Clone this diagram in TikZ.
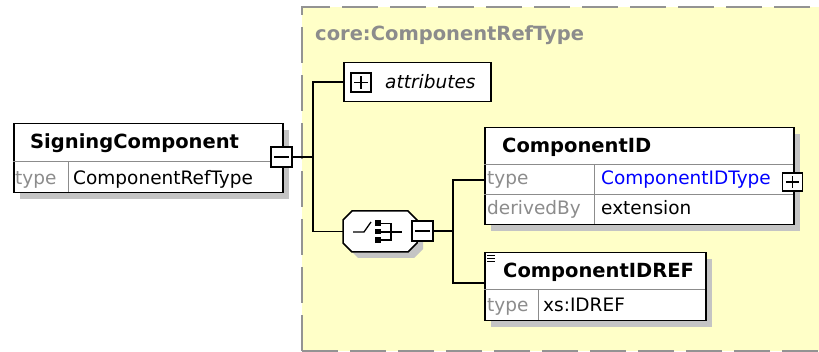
\documentclass[tikz,border=0pt]{standalone}
\usepackage{fontspec}
\setmainfont{DejaVu Sans}
\definecolor{bgyellow}{HTML}{FFFFC8}
\definecolor{dashgray}{HTML}{939393}
\definecolor{shadowgray}{HTML}{C4C4C4}
\definecolor{labelgray}{HTML}{8C8C8C}
\definecolor{divgray}{HTML}{8C8C8C}
\definecolor{typeblue}{HTML}{0000FF}
\begin{document}
\begin{tikzpicture}[x=1pt,y=-1pt,
  boxnode/.style={draw=black, line width=1.5pt, fill=white, inner sep=0pt, anchor=north west},
  shadowfill/.style={fill=shadowgray},
  divider/.style={draw=divgray, line width=1pt},
  conn/.style={draw=black, line width=1.5pt},
  minibox/.style={draw=black, line width=1.3pt, fill=white, minimum width=21pt, minimum height=20pt, inner sep=0pt},
  sign/.style={draw=black, line width=1.3pt},
  regtxt/.style={inner sep=0pt, anchor=base west, font=\fontsize{18.5}{20}\selectfont},
  boldtxt/.style={inner sep=0pt, anchor=base west, font=\fontsize{19.5}{21}\selectfont\bfseries},
  graytxt/.style={regtxt, text=labelgray},
]
\useasboundingbox (0,0) rectangle (819,352);
\fill[white] (0,0) rectangle (819,352);

% complex type region
\begin{scope}
\clip (0,0) rectangle (819,352);
\draw[dashgray, line width=2pt, dash pattern=on 36pt off 12pt, fill=bgyellow] (302,351) rectangle (840,7);
\end{scope}
\node[boldtxt, text=labelgray] (ctname) at (315,41) {core:ComponentRefType};

% SigningComponent
\fill[shadowfill] (20,130) rectangle (289,199);
\node[boxnode, minimum width=269pt, minimum height=69pt] (sc) at (13,123) {};
\draw[divider] (13,162) -- (282,162);
\draw[divider] (68,162) -- (68,192);
\node[boldtxt] (sctitle) at (30,149) {SigningComponent};
\node[graytxt] (sctype) at (15,185) {type};
\node[regtxt] (scval) at (73,185) {ComponentRefType};
\node[minibox] (m1) at (281.5,157) {};
\draw[sign] ([xshift=4pt]m1.west) -- ([xshift=-4pt]m1.east);

% attributes
\node[boxnode, minimum width=147pt, minimum height=39pt] (attr) at (343,62) {};
\node[minibox, minimum width=20pt, minimum height=19pt] (p1) at (361,82.5) {};
\draw[sign] ([xshift=4pt]p1.west) -- ([xshift=-4pt]p1.east);
\draw[sign] ([yshift=-4pt]p1.north) -- ([yshift=4pt]p1.south);
\node[regtxt, font=\fontsize{18.5}{20}\selectfont\itshape] (attrtxt) at (385,89) {attributes};

% sequence compositor
\fill[shadowfill] (358,217)--(414,217)--(423,226)--(423,249)--(414,258)--(358,258)--(349,249)--(349,226)--cycle;
\draw[fill=white, line width=1.5pt] (352,211)--(408,211)--(417,220)--(417,243)--(408,252)--(352,252)--(343,243)--(343,220)--cycle;
\node[inner sep=0pt, minimum width=74pt, minimum height=41pt] (seq) at (380,231.5) {};
\draw[line width=1.3pt] (353,232) -- (364,232) -- (371,222);
\fill[black] (375,220.5) rectangle (381,226);
\fill[black] (375,229) rectangle (381,234.5);
\fill[black] (375,237.5) rectangle (381,243);
\draw[line width=1.3pt] (381,223.5) -- (391,223.5) -- (391,240) -- (381,240);
\draw[line width=1.3pt] (381,232) -- (402,232);
\node[minibox] (m2) at (422.5,231) {};
\draw[sign] ([xshift=4pt]m2.west) -- ([xshift=-4pt]m2.east);

% ComponentID
\fill[shadowfill] (491,134) rectangle (800,231);
\node[boxnode, minimum width=309pt, minimum height=97pt] (cid) at (484,127) {};
\draw[divider] (484,165) -- (793,165);
\draw[divider] (484,195) -- (793,195);
\draw[divider] (594,165) -- (594,224);
\node[inner sep=0pt, minimum width=309pt, minimum height=30pt, anchor=north west] (cidtype) at (484,165) {};
\node[boldtxt] (cidtitle) at (502,153) {ComponentID};
\node[graytxt] (cidtl) at (487,185) {type};
\node[regtxt, text=typeblue] (cidtv) at (601,185) {ComponentIDType};
\node[graytxt] (ciddl) at (487,215) {derivedBy};
\node[regtxt] (ciddv) at (601,215) {extension};
\node[minibox, minimum width=20pt, minimum height=18pt] (p2) at (792.5,182) {};
\draw[sign] ([xshift=4pt]p2.west) -- ([xshift=-4pt]p2.east);
\draw[sign] ([yshift=-3.5pt]p2.north) -- ([yshift=3.5pt]p2.south);

% ComponentIDREF
\fill[shadowfill] (491,259) rectangle (712,327);
\node[boxnode, minimum width=221pt, minimum height=68pt] (cref) at (484,252) {};
\draw[divider] (484,290) -- (705,290);
\draw[divider] (538,290) -- (538,320);
\draw[line width=1pt] (487,255.5) -- (495,255.5);
\draw[line width=1pt] (487,258.5) -- (495,258.5);
\draw[line width=1pt] (487,261.5) -- (495,261.5);
\node[boldtxt] (creftitle) at (503,278) {ComponentIDREF};
\node[graytxt] (creftl) at (487,312) {type};
\node[regtxt] (creftv) at (543,312) {xs:IDREF};
\coordinate (crefin) at (484,283);

% connectors
\coordinate (j1) at (313,157);
\coordinate (j2) at (453,231);
\draw[conn] (m1.east) -- (j1);
\draw[conn] (attr.west) -| (j1);
\draw[conn] (seq.west) -| (j1);
\draw[conn] (m2.east) -- (j2);
\draw[conn] (cidtype.west) -| (j2);
\draw[conn] (crefin) -| (j2);
\end{tikzpicture}
\end{document}
